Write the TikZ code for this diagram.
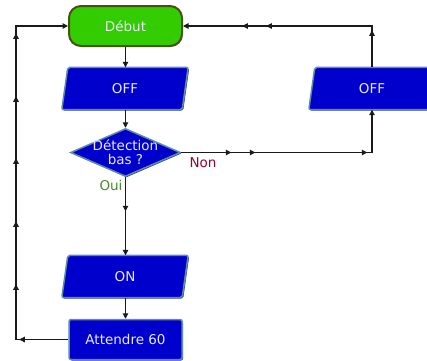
\documentclass[tikz,border=0pt]{standalone}
\usepackage{fontspec}
\newfontfamily\dv{DejaVu Sans}
\usetikzlibrary{shapes.geometric,arrows.meta,decorations.markings,shadows,backgrounds}
\definecolor{bluefill}{HTML}{0000CC}
\definecolor{bluebord}{HTML}{5E8EA2}
\definecolor{blueshad}{HTML}{2E3468}
\definecolor{greenfill}{HTML}{33CC00}
\definecolor{greenbord}{HTML}{445214}
\definecolor{txtc}{HTML}{E8E8FF}
\definecolor{nonc}{HTML}{990033}
\definecolor{ouic}{HTML}{4A8A2A}
\definecolor{linec}{HTML}{1A1A1A}
\tikzset{
  x=1pt,y=-1pt,
  lbl/.style={font=\dv\fontsize{13.5}{15}\selectfont},
  intext/.style={lbl,text=txtc,align=center},
  startbox/.style={intext,rectangle,rounded corners=12pt,fill=greenfill,draw=greenbord,line width=2pt,
    minimum width=113pt,minimum height=40pt,inner sep=0pt,
    drop shadow={shadow xshift=0.8pt,shadow yshift=-0.8pt,fill=black!60,opacity=1}},
  iobox/.style={intext,rectangle,minimum width=120pt,minimum height=42pt,inner sep=0pt},
  iodraw/.style={fill=bluefill,draw=bluebord,line width=1.5pt,rounded corners=2pt,
    drop shadow={shadow xshift=1pt,shadow yshift=-1pt,fill=blueshad,opacity=1}},
  procbox/.style={intext,rectangle,fill=bluefill,draw=bluebord,line width=1.5pt,rounded corners=2pt,
    minimum width=113pt,minimum height=40pt,inner sep=0pt,
    drop shadow={shadow xshift=1pt,shadow yshift=-1pt,fill=blueshad,opacity=1}},
  decbox/.style={diamond,fill=bluefill,draw=bluebord,line width=1.5pt,
    minimum width=110pt,minimum height=48pt,inner sep=0pt,
    drop shadow={shadow xshift=1pt,shadow yshift=-1pt,fill=blueshad,opacity=1}},
  tip/.style={-{Triangle[length=5.5pt,width=5.5pt]}},
  conn/.style={draw=linec,line width=1.1pt},
  marks/.style={postaction={decorate},decoration={markings,
    mark=at position #1 with {\arrow{Triangle[length=5.5pt,width=5.5pt]}}}},
}
\begin{document}
\begin{tikzpicture}
\useasboundingbox (0,0) rectangle (427,360);
% nodes
\node[startbox] (deb) at (125.5,26) {Début};
\node[iobox] (off1) at (125,88.5) {OFF};
\node[decbox,label={[intext,align=center,font=\dv\fontsize{13.5}{14}\selectfont]center:{Détection\\bas ?}}] (dia) at (125.5,152.5) {};
\node[iobox] (on) at (125,276.5) {ON};
\node[procbox] (att) at (125.5,339.5) {Attendre 60};
\node[iobox] (off2) at (372,88.5) {OFF};
\begin{pgfonlayer}{background}
\foreach \n in {off1,on,off2}
  \draw[iodraw] ([xshift=3pt]\n.north west) -- ([xshift=3pt]\n.north east)
     -- ([xshift=-3pt]\n.south east) -- ([xshift=-3pt]\n.south west) -- cycle;
\end{pgfonlayer}
% labels
\node[lbl,text=nonc] (non) at (203,163) {Non};
\node[lbl,text=ouic] (oui) at (111,185) {Oui};
% corner coordinates
\coordinate (lb) at (16,339.5);
\coordinate (lt) at (16,26);
\coordinate (nc) at (off2.south |- dia.east);
\coordinate (rc) at (off2.north |- deb.east);
% connectors
\draw[conn,tip] (deb.south) -- (deb.south |- off1.north);
\draw[conn,tip] (deb.south |- off1.south) -- (dia.north);
\draw[conn,tip,marks=34pt] (dia.south) -- (dia.south |- on.north);
\draw[conn,tip] (dia.south |- on.south) -- (att.north);
\draw[conn,tip,postaction={decorate},decoration={markings,
   mark=at position 49pt with {\arrow{Triangle[length=5.5pt,width=5.5pt]}},
   mark=at position 107.5pt with {\arrow{Triangle[length=5.5pt,width=5.5pt]}},
   mark=at position 170.5pt with {\arrow{Triangle[length=5.5pt,width=5.5pt]}},
   mark=at position 233.5pt with {\arrow{Triangle[length=5.5pt,width=5.5pt]}},
   mark=at position 295.5pt with {\arrow{Triangle[length=5.5pt,width=5.5pt]}},
   mark=at position 358.5pt with {\arrow{Triangle[length=5.5pt,width=5.5pt]}}}]
  (att.west) -- (lb) -- (lt) -- (deb.west);
\draw[conn,tip,postaction={decorate},decoration={markings,
   mark=at position 50pt with {\arrow{Triangle[length=5.5pt,width=5.5pt]}},
   mark=at position 74pt with {\arrow{Triangle[length=5.5pt,width=5.5pt]}},
   mark=at position 186pt with {\arrow{Triangle[length=5.5pt,width=5.5pt]}}}]
  (dia.east) -- (nc) -- (off2.south);
\draw[conn,tip,postaction={decorate},decoration={markings,
   mark=at position 37pt with {\arrow{Triangle[length=5.5pt,width=5.5pt]}},
   mark=at position 147pt with {\arrow{Triangle[length=5.5pt,width=5.5pt]}},
   mark=at position 171pt with {\arrow{Triangle[length=5.5pt,width=5.5pt]}}}]
  (off2.north) -- (rc) -- (deb.east);
\end{tikzpicture}
\end{document}
